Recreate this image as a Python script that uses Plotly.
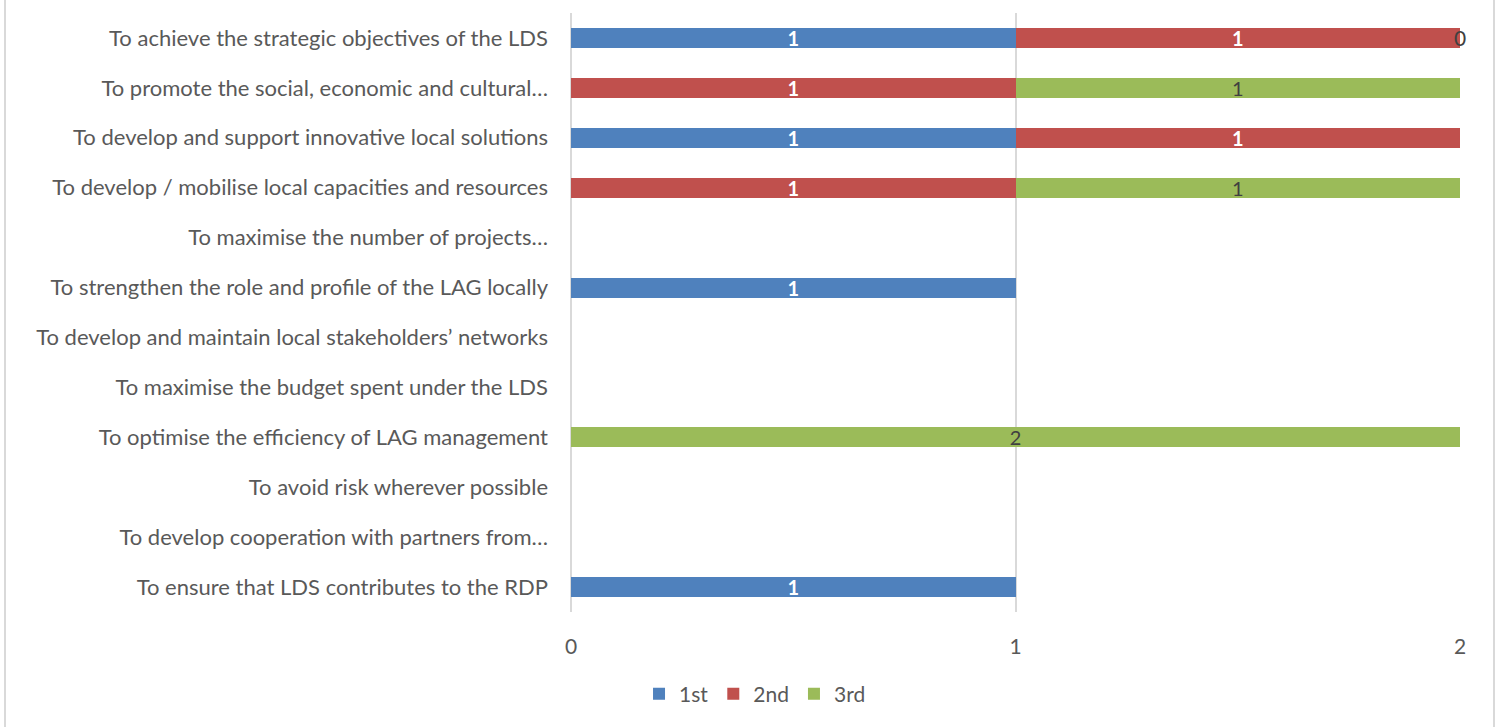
"""Stacked horizontal bar chart of LAG objective rankings."""

import plotly.graph_objects as go

categories = [
    "To achieve the strategic objectives of the LDS",
    "To promote the social, economic and cultural…",
    "To develop and support innovative local solutions",
    "To develop / mobilise local capacities and resources",
    "To maximise the number of projects…",
    "To strengthen the role and profile of the LAG locally",
    "To develop and maintain local stakeholders’ networks",
    "To maximise the budget spent under the LDS",
    "To optimise the efficiency of LAG management",
    "To avoid risk wherever possible",
    "To develop cooperation with partners from…",
    "To ensure that LDS contributes to the RDP",
]

first = [1, None, 1, None, None, 1, None, None, None, None, None, 1]
second = [1, 1, 1, 1, None, None, None, None, None, None, None, None]
third = [0, 1, None, 1, None, None, None, None, 2, None, None, None]

series_names = ["1st", "2nd", "3rd"]
x_ticks = [0, 1, 2]

FONT = "Lato"
GREY = "#595959"

series = [
    (series_names[0], first, "#4F81BD", "white", True),
    (series_names[1], second, "#C0504D", "white", True),
    (series_names[2], third, "#9BBB59", "#404040", False),
]

fig = go.Figure()

for name, values, color, text_color, bold in series:
    labels = []
    for v in values:
        if v is None or v == 0:
            labels.append("")
        elif bold:
            labels.append(f"<b>{v}</b>")
        else:
            labels.append(str(v))
    fig.add_trace(
        go.Bar(
            y=categories,
            x=values,
            name=name,
            orientation="h",
            marker={"color": color, "line": {"width": 0}},
            text=labels,
            textposition="inside",
            insidetextanchor="middle",
            textangle=0,
            insidetextfont={"color": text_color, "size": 20, "family": FONT},
            hoverinfo="skip",
        )
    )

# zero-valued labels (Excel still prints them at the end of the stack)
for i, v in enumerate(third):
    if v == 0:
        base = (first[i] or 0) + (second[i] or 0)
        fig.add_annotation(
            x=base,
            y=categories[i],
            text=str(v),
            showarrow=False,
            font={"color": "#404040", "size": 21, "family": FONT},
        )

# outer frame lines of the chart area
for px in (5, 1494):
    xp = (px - 571) / 889
    fig.add_shape(
        type="line",
        xref="paper",
        yref="paper",
        x0=xp,
        x1=xp,
        y0=-0.2,
        y1=1.05,
        line={"color": "#D9D9D9", "width": 2},
    )

fig.update_layout(
    barmode="stack",
    bargap=0.6,
    width=1496,
    height=727,
    autosize=False,
    margin={"l": 571, "r": 36, "t": 13, "b": 115},
    plot_bgcolor="white",
    paper_bgcolor="white",
    font={"family": FONT, "size": 22, "color": GREY},
    uniformtext={"minsize": 20, "mode": "show"},
    showlegend=True,
    legend={
        "orientation": "h",
        "x": 0.207,
        "xanchor": "center",
        "y": -0.137,
        "yanchor": "middle",
        "font": {"size": 21, "color": GREY},
        "traceorder": "normal",
        "itemwidth": 30,
    },
)

fig.update_xaxes(
    range=[0, 2],
    tickvals=x_ticks,
    showgrid=True,
    gridcolor="#D9D9D9",
    gridwidth=1.5,
    zeroline=True,
    zerolinecolor="#D9D9D9",
    zerolinewidth=1.5,
    tickfont={"size": 21, "color": GREY},
    ticks="",
    ticklabelstandoff=20,
)
fig.update_yaxes(
    autorange="reversed",
    showgrid=False,
    ticks="",
    ticklabelstandoff=22,
    tickfont={"size": 22, "color": GREY},
)

fig.write_html(
    "out.html",
    config={"displayModeBar": False},
    post_script="document.body.style.margin='0';",
)
